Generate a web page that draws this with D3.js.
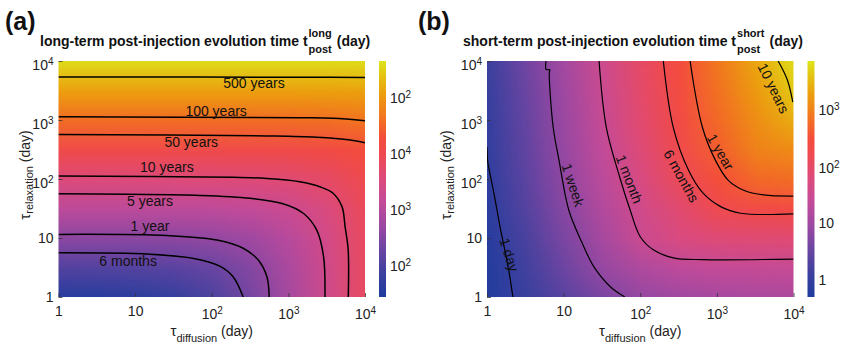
<!DOCTYPE html>
<html>
<head>
<meta charset="utf-8">
<script src="https://cdn.jsdelivr.net/npm/d3@7"></script>
<style>
  body { margin: 0; background: #fff; }
  svg { display: block; font-family: "Liberation Sans", Arial, Helvetica, sans-serif; }
</style>
</head>
<body>
<svg id="chart" width="846" height="349"></svg>
<script>
// ---- data -------------------------------------------------------------
// grid node exponents (log10 of tau, day) for both axes
const gridExp = [0, 0.5, 1, 1.5, 2, 2.5, 3, 3.5, 4];

// log10 of t_post^long (day); rows = tau_relaxation from 1 up, cols = tau_diffusion
const longGrid = [
  [1.53, 1.54, 1.59, 1.72, 1.97, 2.35, 2.80, 3.29, 3.78],
  [2.02, 2.03, 2.04, 2.09, 2.22, 2.47, 2.85, 3.30, 3.79],
  [2.52, 2.52, 2.53, 2.54, 2.59, 2.72, 2.97, 3.35, 3.80],
  [3.02, 3.02, 3.02, 3.03, 3.04, 3.09, 3.22, 3.47, 3.85],
  [3.52, 3.52, 3.52, 3.52, 3.53, 3.54, 3.59, 3.72, 3.97],
  [4.02, 4.02, 4.02, 4.02, 4.02, 4.03, 4.04, 4.09, 4.22],
  [4.52, 4.52, 4.52, 4.52, 4.52, 4.52, 4.53, 4.54, 4.59],
  [5.02, 5.02, 5.02, 5.02, 5.02, 5.02, 5.02, 5.03, 5.04],
  [5.52, 5.52, 5.52, 5.52, 5.52, 5.52, 5.52, 5.52, 5.53]
];

// log10 of t_post^short (day)
const shortGrid = [
  [-0.20, 0.09, 0.38, 0.67, 0.90, 1.00, 1.06, 1.10, 1.12],
  [-0.21, 0.17, 0.55, 0.91, 1.15, 1.30, 1.37, 1.40, 1.41],
  [-0.17, 0.25, 0.67, 1.07, 1.47, 1.70, 1.80, 1.83, 1.84],
  [-0.11, 0.34, 0.78, 1.19, 1.56, 1.87, 2.20, 2.31, 2.35],
  [-0.05, 0.41, 0.86, 1.28, 1.69, 2.10, 2.47, 2.71, 2.75],
  [ 0.00, 0.46, 0.92, 1.36, 1.80, 2.24, 2.62, 2.95, 3.04],
  [ 0.03, 0.49, 0.96, 1.43, 1.88, 2.33, 2.72, 3.06, 3.36],
  [ 0.07, 0.54, 1.00, 1.47, 1.93, 2.38, 2.79, 3.19, 3.59],
  [ 0.12, 0.59, 1.05, 1.51, 1.98, 2.43, 2.86, 3.30, 3.73]
];

// contour lines, [tau_diffusion, tau_relaxation] in days
const long500y = [[1, 5370], [3000, 5300], [10000, 5250]];
const long100y = [[1, 1140], [1400, 1090], [3800, 1070], [10000, 975]];
const long50y = [[1, 570], [525, 537], [2340, 510], [6450, 457], [10000, 412]];
const long10y = [[1, 112], [190, 107], [525, 102], [1410, 90], [2570, 74], [3800, 58], [5010, 34], [5500, 15.5], [6030, 6.3], [6050, 1]];
const long5y = [[1, 56], [70, 52.5], [316, 47], [850, 38], [1580, 26], [2340, 13.7], [2880, 4.8], [3000, 1]];
const long1y = [[1, 11.5], [26, 11], [117, 9.25], [257, 6.7], [407, 4.2], [525, 2.2], [562, 1]];
const long6m = [[1, 5.6], [15.5, 5.3], [58, 4.5], [129, 3.3], [190, 2.2], [257, 1]];

const short1d = [[1, 347], [1.02, 200], [1.07, 141], [1.23, 57.5], [1.48, 15.5], [1.74, 5.6], [1.95, 2.57], [2.14, 1.17], [2.19, 1]];
const short1w = [[5.9, 10000], [5.9, 7250], [6.6, 7080], [6.5, 6300], [7.3, 760], [8.7, 209], [11.7, 29.5], [17.4, 8.3], [25, 3.2], [41, 1.48], [63, 1]];
const short1mo = [[29, 10000], [36, 760], [54, 107], [74, 29.5], [100, 10.5], [148, 6.3], [270, 4.6], [660, 4.3], [10000, 4.4]];
const short6m = [[200, 10000], [269, 760], [427, 141], [661, 57.5], [1120, 34], [2040, 26.3], [10000, 25.7]];
const short1y = [[447, 10000], [646, 760], [955, 209], [1410, 95], [2240, 64.6], [4070, 53.7], [10000, 51.3]];
const short10y = [[6300, 10000], [8300, 4800], [9800, 2000]];

const longLabels = ["500 years", "100 years", "50 years", "10 years", "5 years", "1 year", "6 months"];
const longLabelAt = [[355, 4250], [114, 1440], [54, 430], [26, 160], [15.6, 42], [15.6, 16], [8.1, 4.1]];
const shortLabels = ["1 day", "1 week", "1 month", "6 months", "1 year", "10 years"];
const shortLabelAt = [[1.95, 5.2], [13.3, 79], [72, 100], [344, 112], [1120, 288], [5500, 3470]];
const shortLabelAngle = [72, 72, 69, 61, 60, 64];

const axisTicks = [1, 10, 100, 1000, 10000];
// colorbar ticks (log10 positions) and the labels printed beside them
const longBarTicks = [5, 4, 3, 2];
const longBarText = [["10", "2"], ["10", "4"], ["10", "3"], ["10", "2"]];
const shortBarTicks = [3, 2, 1, 0];
const shortBarText = [["10", "3"], ["10", "2"], ["10", ""], ["1", ""]];

// colormap stops (fraction of colour range)
const cmapPos = [0, 0.10, 0.20, 0.30, 0.40, 0.50, 0.60, 0.67, 0.76, 0.86, 0.94, 1];
const cmapCol = ["#1e3c9e", "#3c409e", "#6a45a2", "#9a48a2", "#c24b9a", "#dc4a7c",
                 "#ee4a52", "#f44c3c", "#f27420", "#ec9e0e", "#e4c412", "#dde41c"];

// ---- layout -----------------------------------------------------------
const svg = d3.select("#chart");
const plotTop = 61, plotBottom = 297, plotW = 306.5;
const cmap = d3.scaleLinear().domain(cmapPos).range(cmapCol).interpolate(d3.interpolateRgb);

// gradient shared by both colorbars
const grad = svg.append("defs").append("linearGradient")
  .attr("id", "cbar").attr("x1", 0).attr("y1", 1).attr("x2", 0).attr("y2", 0);
grad.selectAll("stop").data(cmapPos).enter().append("stop")
  .attr("offset", d => d)
  .attr("stop-color", (d, i) => cmapCol[i]);

function powText(sel, base, exp, supSize) {
  sel.text(null);
  sel.append("tspan").text(base);
  if (exp) sel.append("tspan").attr("dy", "-0.5em").attr("font-size", supSize).text(exp);
}

function drawPanel(p) {
  const g = svg.append("g");
  const x = d3.scaleLog().domain([1, 1e4]).range([p.left, p.left + plotW]);
  const y = d3.scaleLog().domain([1, 1e4]).range([plotBottom, plotTop]);
  const norm = d3.scaleLinear().domain(p.cDomain).range([0, 1]).clamp(true);

  const clipId = "clip-" + p.id;
  g.append("clipPath").attr("id", clipId).append("rect")
    .attr("x", x(1)).attr("y", y(1e4))
    .attr("width", x(1e4) - x(1)).attr("height", y(1) - y(1e4));

  // heat map: one pixel per grid node, smoothed by the browser when scaled
  const n = gridExp.length;
  const cv = document.createElement("canvas");
  cv.width = n; cv.height = n;
  const ctx = cv.getContext("2d");
  p.grid.forEach((row, j) => row.forEach((v, i) => {
    ctx.fillStyle = cmap(norm(v));
    ctx.fillRect(i, n - 1 - j, 1, 1);
  }));
  const half = (gridExp[1] - gridExp[0]) / 2;
  const gx0 = x(Math.pow(10, gridExp[0] - half)), gx1 = x(Math.pow(10, gridExp[n - 1] + half));
  const gy0 = y(Math.pow(10, gridExp[n - 1] + half)), gy1 = y(Math.pow(10, gridExp[0] - half));
  g.append("image")
    .attr("clip-path", `url(#${clipId})`)
    .attr("href", cv.toDataURL())
    .attr("x", gx0).attr("y", gy0)
    .attr("width", gx1 - gx0).attr("height", gy1 - gy0)
    .attr("preserveAspectRatio", "none");

  // contour lines
  const line = d3.line()
    .x(d => x(d[0])).y(d => y(d[1]))
    .curve(d3.curveCatmullRom.alpha(0.5));
  g.append("g").attr("clip-path", `url(#${clipId})`)
    .selectAll("path").data(p.contours).enter().append("path")
    .attr("d", line)
    .attr("fill", "none")
    .attr("stroke", "#000")
    .attr("stroke-width", p.lineW);

  // contour labels
  g.append("g").selectAll("text").data(p.labels).enter().append("text")
    .attr("transform", (d, i) => `translate(${x(p.labelAt[i][0])},${y(p.labelAt[i][1])}) rotate(${p.angles ? p.angles[i] : 0})`)
    .attr("text-anchor", "middle")
    .attr("dominant-baseline", "central")
    .attr("font-size", 14)
    .attr("fill", "#111")
    .text(d => d);

  // axes (ticks point inward)
  const fmt = d => d;
  const xAxis = g.append("g").attr("transform", `translate(0,${plotBottom})`)
    .call(d3.axisBottom(x).tickValues(axisTicks).tickSizeInner(-4).tickSizeOuter(0).tickPadding(9).tickFormat(fmt));
  const yAxis = g.append("g").attr("transform", `translate(${x(1)},0)`)
    .call(d3.axisLeft(y).tickValues(axisTicks).tickSizeInner(-4).tickSizeOuter(0).tickPadding(5).tickFormat(fmt));
  [xAxis, yAxis].forEach(a => {
    a.select(".domain").remove();
    a.selectAll("line").attr("stroke", "#333").attr("stroke-width", 0.8);
    a.selectAll("text").attr("font-size", 14).attr("fill", "#222").attr("font-family", null)
      .each(function (d) {
        const e = Math.round(Math.log10(d));
        const t = d3.select(this);
        if (e >= 2) {
          powText(t, "10", String(e), 10);
          t.attr("transform", a === xAxis ? "translate(0,3)" : "translate(0,4)");
        }
      });
  });

  // axis titles
  const xt = g.append("text")
    .attr("x", (x(1) + x(1e4)) / 2 + 0).attr("y", 336)
    .attr("text-anchor", "middle").attr("fill", "#222");
  xt.append("tspan").attr("font-size", 15).text("\u03c4");
  xt.append("tspan").attr("font-size", 11).attr("dy", 6).text("diffusion");
  xt.append("tspan").attr("font-size", 14).attr("dy", -6).text(" (day)");

  const yt = g.append("text")
    .attr("transform", `translate(${x(1) - p.yTitleOff},${(plotTop + plotBottom) / 2 - 4}) rotate(-90)`)
    .attr("text-anchor", "middle").attr("fill", "#222");
  yt.append("tspan").attr("font-size", 15).text("\u03c4");
  yt.append("tspan").attr("font-size", 11).attr("dy", 3).text("relaxation");
  yt.append("tspan").attr("font-size", 14).attr("dy", -3).text(" (day)");

  // colorbar
  const cb = d3.scaleLinear().domain(p.cDomain).range([plotBottom, plotTop]);
  g.append("rect")
    .attr("x", p.barX).attr("y", plotTop)
    .attr("width", 7).attr("height", plotBottom - plotTop)
    .attr("fill", "url(#cbar)");
  const cAxis = g.append("g").attr("transform", `translate(${p.barX + 7},0)`)
    .call(d3.axisRight(cb).tickValues(p.barTicks).tickSize(0).tickPadding(4).tickFormat(fmt));
  cAxis.select(".domain").remove();
  cAxis.selectAll("text").attr("font-size", 14).attr("fill", "#222").attr("font-family", null)
    .each(function (d, i) {
      const lab = p.barText[i];
      powText(d3.select(this), lab[0], lab[1], 10);
      if (lab[1]) d3.select(this).attr("transform", "translate(0,3)");
    });

  // panel letter and title
  g.append("text").attr("x", p.letterX).attr("y", 30)
    .attr("font-size", 25).attr("font-weight", "bold").attr("fill", "#111").text(p.letter);

  const tt = g.append("text").attr("x", p.titleX).attr("y", 46)
    .attr("font-size", 14).attr("font-weight", "bold").attr("fill", "#111").text(p.title);
  const sx = p.titleX + tt.node().getComputedTextLength() + 1;
  const sup = g.append("text").attr("x", sx).attr("y", 37)
    .attr("font-size", 11).attr("font-weight", "bold").attr("fill", "#111").text(p.sup);
  const sub = g.append("text").attr("x", sx).attr("y", 53)
    .attr("font-size", 11).attr("font-weight", "bold").attr("fill", "#111").text("post");
  const w2 = Math.max(sup.node().getComputedTextLength(), sub.node().getComputedTextLength());
  g.append("text").attr("x", sx + w2 + 5).attr("y", 46)
    .attr("font-size", 14).attr("font-weight", "bold").attr("fill", "#111").text("(day)");
}

drawPanel({
  id: "a", left: 58.5, barX: 379, cDomain: [1.4, 5.6], grid: longGrid,
  contours: [long500y, long100y, long50y, long10y, long5y, long1y, long6m], lineW: 1.5,
  labels: longLabels, labelAt: longLabelAt, angles: null,
  barTicks: longBarTicks, barText: longBarText,
  letter: "(a)", letterX: 5, title: "long-term post-injection evolution time t", sup: "long", titleX: 40,
  yTitleOff: 29
});
drawPanel({
  id: "b", left: 487, barX: 807.5, cDomain: [-0.29, 3.8], grid: shortGrid,
  contours: [short1d, short1w, short1mo, short6m, short1y, short10y], lineW: 1.2,
  labels: shortLabels, labelAt: shortLabelAt, angles: shortLabelAngle,
  barTicks: shortBarTicks, barText: shortBarText,
  letter: "(b)", letterX: 418, title: "short-term post-injection evolution time t", sup: "short", titleX: 463,
  yTitleOff: 36
});
</script>
</body>
</html>
